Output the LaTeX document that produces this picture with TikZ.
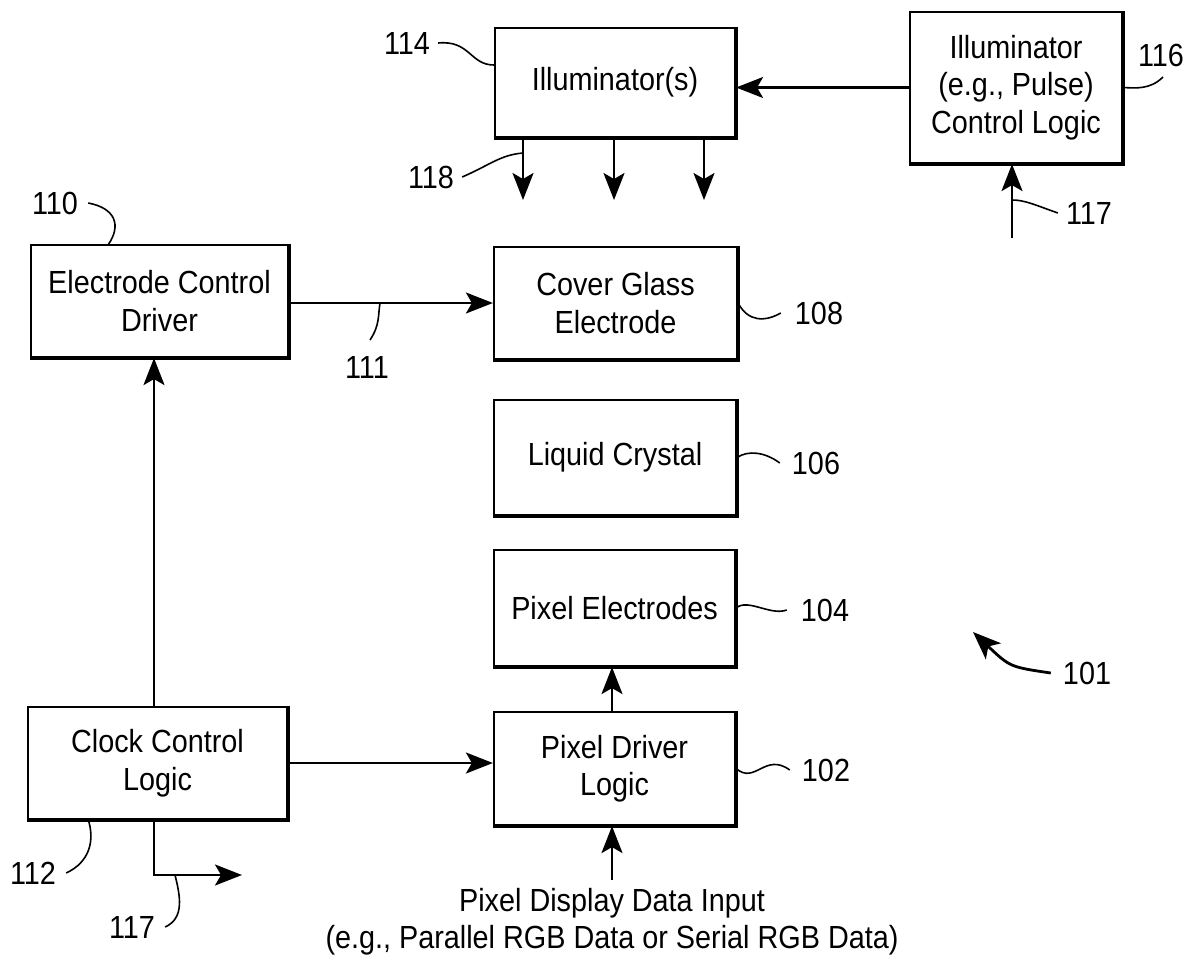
\documentclass[tikz,border=0pt]{standalone}
\usepackage{fontspec}
\setmainfont{Liberation Sans}[FakeStretch=0.9]
\usetikzlibrary{arrows.meta}
\begin{document}
\begin{tikzpicture}[x=1pt,y=-1pt,
  blk/.style={draw, line width=2.2pt, inner sep=0pt, align=center,
    font=\fontsize{32}{37.5}\selectfont},
  lbl/.style={inner sep=0pt, font=\fontsize{32}{37.5}\selectfont},
  arr/.style={line width=2.2pt, -{Stealth[length=27pt,width=21pt,inset=6pt]}},
  lead/.style={line width=1.6pt},
  edge/.style={line width=3.8pt, line join=miter}]
\useasboundingbox (0,0) rectangle (1204,963);
% boxes
\node[blk, minimum width=240pt, minimum height=109pt] (ill) at (615,82.5) {Illuminator(s)};
\node[blk, minimum width=212pt, minimum height=151pt] (ictl) at (1016,87.5) {Illuminator\\(e.g., Pulse)\\Control Logic};
\node[blk, minimum width=257pt, minimum height=112pt] (ecd) at (159.5,301) {Electrode Control\\Driver};
\node[blk, minimum width=243pt, minimum height=112pt] (cge) at (615.5,303) {Cover Glass\\Electrode};
\node[blk, minimum width=242pt, minimum height=115pt] (lc) at (615,457.5) {Liquid Crystal};
\node[blk, minimum width=241pt, minimum height=116pt] (pe) at (614.5,608) {Pixel Electrodes};
\node[blk, minimum width=241pt, minimum height=113pt] (pdl) at (614.5,768.5) {Pixel Driver\\Logic};
\node[blk, minimum width=259pt, minimum height=112pt] (ccl) at (157.5,763) {Clock Control\\Logic};
\foreach \n in {ill,ictl,ecd,cge,lc,pe,pdl,ccl}
  \draw[edge] (\n.north east) -- (\n.south east) -- (\n.south west);
% input text
\node[lbl, align=center] (inp) at (612,921.5) {Pixel Display Data Input\\(e.g., Parallel RGB Data or Serial RGB Data)};
% free-end coordinates
\coordinate (o1) at (523,200);
\coordinate (o2) at (614,200);
\coordinate (o3) at (704,200);
\coordinate (i117) at (1012,238);
\coordinate (o117) at (242,875);
\coordinate (din) at (612,880);
\coordinate (tip101) at (973,632);
% connectors
\draw[arr] (ictl.west) -- (ictl.west -| ill.east);
\draw[arr] (o1 |- ill.south) -- (o1);
\draw[arr] (o2 |- ill.south) -- (o2);
\draw[arr] (o3 |- ill.south) -- (o3);
\draw[arr] (i117) -- (i117 |- ictl.south);
\draw[arr] (ecd.east |- cge.west) -- (cge.west);
\draw[arr] ([xshift=-3.5pt]ccl.north) -- ([xshift=-3.5pt]ccl.north |- ecd.south);
\draw[arr] (ccl.east) -- (ccl.east -| pdl.west);
\draw[arr] ([xshift=-2.5pt]pdl.north) -- ([xshift=-2.5pt]pe.south);
\draw[arr] (din) -- (din |- pdl.south);
\draw[arr] ([xshift=-3.5pt]ccl.south) |- (o117);
% labels
\node[lbl] (l114) at (407,43) {114};
\node[lbl] (l118) at (431,177) {118};
\node[lbl] (l116) at (1161,55) {116};
\node[lbl] (l117a) at (1089,213) {117};
\node[lbl] (l110) at (55,203) {110};
\node[lbl] (l111) at (367,367) {111};
\node[lbl] (l108) at (819,313) {108};
\node[lbl] (l106) at (816,463) {106};
\node[lbl] (l104) at (825,610) {104};
\node[lbl] (l102) at (826,770) {102};
\node[lbl] (l112) at (33,873) {112};
\node[lbl] (l117b) at (132,927) {117};
\node[lbl] (l101) at (1087,673) {101};
% leaders
\draw[lead] ([xshift=8pt]l114.east) .. controls (470,40) and (470,65) .. (ill.west |- 0,65);
\draw[lead] ([xshift=8pt]l118.east) .. controls (490,165) and (500,155) .. (523,153);
\draw[lead] (1163,77) .. controls (1150,90) and (1135,88) .. (ictl.east);
\draw[lead] ([xshift=-8pt]l117a.west) .. controls (1035,205) and (1025,200) .. (1012,200);
\draw[lead] ([xshift=10pt]l110.east) .. controls (115,208) and (122,225) .. (108,245);
\draw[lead] (370,340) .. controls (380,325) and (378,315) .. (380,303);
\draw[lead] (cge.east) .. controls (748,322) and (765,322) .. ([xshift=-14pt]l108.west);
\draw[lead] (lc.east) .. controls (748,450) and (765,452) .. ([xshift=-12pt]l106.west);
\draw[lead] (pe.east) .. controls (748,598) and (770,616) .. ([xshift=-14pt]l104.west);
\draw[lead] (pdl.east) .. controls (755,785) and (765,752) .. ([xshift=-12pt]l102.west);
\draw[lead] ([xshift=10pt]l112.east) .. controls (90,862) and (95,840) .. (88,819);
\draw[lead] ([xshift=10pt]l117b.east) .. controls (185,918) and (180,895) .. (175,875);
\draw[line width=2.8pt, -{Stealth[length=28pt,width=22pt,inset=7pt]}] ([xshift=-12pt]l101.west) .. controls (1010,667) .. (tip101);
\end{tikzpicture}
\end{document}
